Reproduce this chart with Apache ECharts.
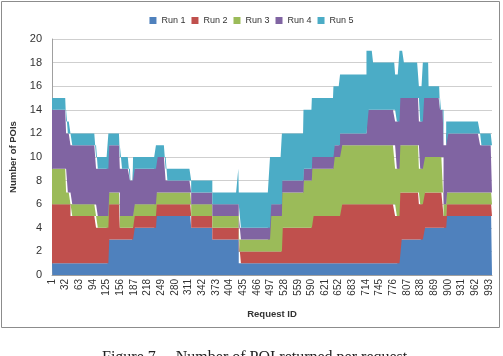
<!DOCTYPE html>
<html>
<head>
<meta charset="utf-8">
<script src="https://cdn.jsdelivr.net/npm/echarts@6/dist/echarts.min.js"></script>
<style>
  html, body { margin: 0; padding: 0; background: #fff; }
  #main { width: 503px; height: 356px; }
</style>
</head>
<body>
<div id="main"></div>
<script>
// request ids run from 1 to 1000
var firstId = 1;
var lastId = 1000;

// each segment starts at this request id and keeps its values until the next one
var segStart = [1, 33, 43, 101, 129, 155, 178, 185, 237, 259, 317, 365, 424, 425, 496, 523, 572, 591, 640, 655, 715, 730, 780, 790, 800, 834, 843, 856, 882, 890, 896, 973];
var run1 = [1, 1, 1, 1, 3, 3, 3, 4, 5, 5, 4, 3, 3, 1, 1, 1, 1, 1, 1, 1, 1, 1, 1, 3, 3, 3, 4, 4, 4, 4, 5, 5];
var run2 = [5, 5, 4, 3, 3, 1, 1, 1, 1, 1, 1, 1, 1, 1, 1, 3, 3, 4, 4, 5, 5, 5, 4, 4, 4, 3, 3, 3, 3, 1, 1, 1];
var run3 = [3, 1, 1, 1, 1, 1, 1, 1, 1, 1, 1, 1, 1, 1, 3, 3, 4, 4, 5, 5, 5, 5, 4, 4, 4, 3, 3, 3, 3, 1, 1, 1];
var run4 = [5, 5, 5, 4, 4, 4, 3, 3, 3, 1, 1, 1, 1, 1, 1, 1, 1, 1, 1, 1, 3, 3, 4, 4, 4, 4, 5, 5, 4, 5, 5, 4];
var run5 = [1, 1, 1, 1, 1, 1, 0, 1, 1, 1, 1, 1, 3, 3, 4, 4, 5, 5, 5, 5, 5, 4, 4, 4, 3, 3, 3, 1, 0, 0, 1, 1];

var runNames = ["Run 1", "Run 2", "Run 3", "Run 4", "Run 5"];
var runColors = ["#4F81BD", "#C0504D", "#9BBB59", "#8064A2", "#4BACC6"];

// category labels 1..1000
var ids = [];
for (var i = firstId; i <= lastId; i++) ids.push(String(i));

// spread the segment values over every request id
function expand(vals) {
  var out = [];
  var s = 0;
  for (var id = firstId; id <= lastId; id++) {
    while (s + 1 < segStart.length && id >= segStart[s + 1]) s++;
    out.push(vals[s]);
  }
  return out;
}

var runs = [run1, run2, run3, run4, run5];

var myChart = echarts.init(document.getElementById("main"));

var option = {
  animation: false,
  color: runColors,
  textStyle: { fontFamily: "Liberation Sans" },
  legend: {
    top: 11,
    left: "center",
    icon: "rect",
    itemWidth: 7,
    itemHeight: 7,
    itemGap: 6,
    textStyle: { fontSize: 9, color: "#333" },
    data: runNames,
  },
  grid: { left: 52, right: 11, top: 39, bottom: 81 },
  xAxis: {
    type: "category",
    data: ids,
    boundaryGap: false,
    name: "Request ID",
    nameLocation: "middle",
    nameGap: 34,
    nameTextStyle: { fontSize: 9.5, fontWeight: "bold", color: "#333" },
    axisLine: { lineStyle: { color: "#a0a0a0" } },
    axisTick: { show: false },
    axisLabel: { interval: 30, rotate: 90, fontSize: 10, color: "#333", margin: 4 },
  },
  yAxis: {
    type: "value",
    min: 0,
    max: 20,
    interval: 2,
    name: "Number of POIs",
    nameLocation: "middle",
    nameGap: 33,
    nameTextStyle: { fontSize: 9.5, fontWeight: "bold", color: "#333" },
    axisLine: { show: true, lineStyle: { color: "#a0a0a0" } },
    axisTick: { show: false },
    axisLabel: { fontSize: 11, color: "#333", margin: 10 },
    splitLine: { lineStyle: { color: "#cfcfcf" } },
  },
  graphic: [
    {
      type: "rect",
      shape: { x: 1.5, y: 1.5, width: 498, height: 326 },
      style: { fill: null, stroke: "#8c8c8c", lineWidth: 1 },
    },
    {
      type: "text",
      left: 102,
      top: 350,
      style: {
        text: "Figure 7.    Number of POI returned per request",
        font: "16px 'Liberation Serif'",
        fill: "#222",
      },
    },
  ],
  series: runs.map(function (vals, k) {
    return {
      name: runNames[k],
      type: "line",
      stack: "total",
      step: "end",
      symbol: "none",
      lineStyle: { width: 0 },
      areaStyle: { opacity: 1 },
      data: expand(vals),
    };
  }),
};

myChart.setOption(option);
</script>
</body>
</html>
